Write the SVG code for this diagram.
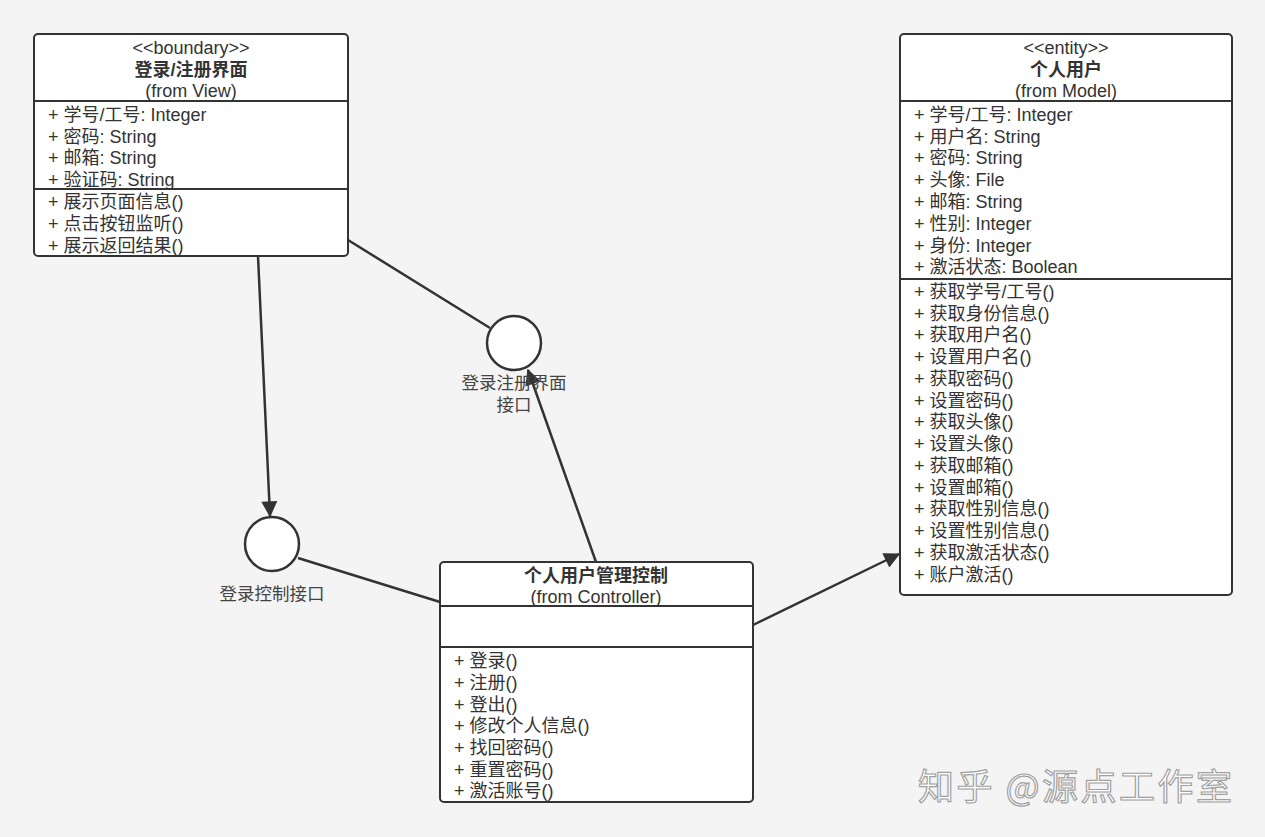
<svg xmlns="http://www.w3.org/2000/svg" width="1265" height="837" viewBox="0 0 1265 837">
<defs>
<style>
.box{fill:#fff;stroke:#333;stroke-width:2}
.div{stroke:#333;stroke-width:2}
.t{font-family:"Liberation Sans","Noto Sans CJK SC",sans-serif;font-size:18px;fill:#333}
.c{text-anchor:middle}
.b{font-weight:bold}
.lbl{font-family:"Liberation Sans","Noto Sans CJK SC",sans-serif;font-size:17.5px;fill:#444;text-anchor:middle}
.ln{stroke:#333;stroke-width:2.5;fill:none}
.wm{font-family:"Noto Sans CJK SC",sans-serif;font-size:36px;fill:#fff;stroke:#a0a0a0;stroke-width:1.2}
</style>
<marker id="arrow" viewBox="0 0 12 12" refX="11" refY="6" markerWidth="18" markerHeight="16" markerUnits="userSpaceOnUse" orient="auto">
<path d="M0,0 L12,6 L0,12 z" fill="#333"/>
</marker>
</defs>
<rect x="0" y="0" width="1265" height="837" fill="#f4f4f4"/>

<g id="connectors">
<line class="ln" x1="258" y1="256" x2="270" y2="516" marker-end="url(#arrow)"/>
<line class="ln" x1="348" y1="240" x2="490" y2="328"/>
<line class="ln" x1="298" y1="558" x2="440" y2="602"/>
<line class="ln" x1="596" y1="562" x2="528" y2="370" marker-end="url(#arrow)"/>
<line class="ln" x1="753" y1="625" x2="899" y2="554" marker-end="url(#arrow)"/>
</g>

<g id="boundary">
<rect class="box" x="34" y="34" width="314" height="222" rx="4"/>
<line class="div" x1="34" y1="101" x2="348" y2="101"/>
<line class="div" x1="34" y1="189" x2="348" y2="189"/>
<text class="t c" x="191" y="54">&lt;&lt;boundary&gt;&gt;</text>
<text class="t c b" x="191" y="76">登录/注册界面</text>
<text class="t c" x="191" y="97">(from View)</text>
<text class="t" x="48" y="121">+ 学号/工号: Integer</text>
<text class="t" x="48" y="143">+ 密码: String</text>
<text class="t" x="48" y="164">+ 邮箱: String</text>
<text class="t" x="48" y="186">+ 验证码: String</text>
<text class="t" x="48" y="208">+ 展示页面信息()</text>
<text class="t" x="48" y="230">+ 点击按钮监听()</text>
<text class="t" x="48" y="252">+ 展示返回结果()</text>
</g>

<g id="entity">
<rect class="box" x="900" y="34" width="332" height="561" rx="4"/>
<line class="div" x1="900" y1="101" x2="1232" y2="101"/>
<line class="div" x1="900" y1="279" x2="1232" y2="279"/>
<text class="t c" x="1066" y="54">&lt;&lt;entity&gt;&gt;</text>
<text class="t c b" x="1066" y="76">个人用户</text>
<text class="t c" x="1066" y="97">(from Model)</text>
<text class="t" x="914" y="121">+ 学号/工号: Integer</text>
<text class="t" x="914" y="143">+ 用户名: String</text>
<text class="t" x="914" y="164">+ 密码: String</text>
<text class="t" x="914" y="186">+ 头像: File</text>
<text class="t" x="914" y="208">+ 邮箱: String</text>
<text class="t" x="914" y="230">+ 性别: Integer</text>
<text class="t" x="914" y="252">+ 身份: Integer</text>
<text class="t" x="914" y="273">+ 激活状态: Boolean</text>
<text class="t" x="914" y="298">+ 获取学号/工号()</text>
<text class="t" x="914" y="320">+ 获取身份信息()</text>
<text class="t" x="914" y="341">+ 获取用户名()</text>
<text class="t" x="914" y="363">+ 设置用户名()</text>
<text class="t" x="914" y="385">+ 获取密码()</text>
<text class="t" x="914" y="407">+ 设置密码()</text>
<text class="t" x="914" y="428">+ 获取头像()</text>
<text class="t" x="914" y="450">+ 设置头像()</text>
<text class="t" x="914" y="472">+ 获取邮箱()</text>
<text class="t" x="914" y="494">+ 设置邮箱()</text>
<text class="t" x="914" y="515">+ 获取性别信息()</text>
<text class="t" x="914" y="537">+ 设置性别信息()</text>
<text class="t" x="914" y="559">+ 获取激活状态()</text>
<text class="t" x="914" y="581">+ 账户激活()</text>
</g>

<g id="controller">
<rect class="box" x="440" y="562" width="313" height="240" rx="4"/>
<line class="div" x1="440" y1="606" x2="753" y2="606"/>
<line class="div" x1="440" y1="647" x2="753" y2="647"/>
<text class="t c b" x="596" y="582">个人用户管理控制</text>
<text class="t c" x="596" y="603">(from Controller)</text>
<text class="t" x="454" y="667">+ 登录()</text>
<text class="t" x="454" y="689">+ 注册()</text>
<text class="t" x="454" y="711">+ 登出()</text>
<text class="t" x="454" y="732">+ 修改个人信息()</text>
<text class="t" x="454" y="754">+ 找回密码()</text>
<text class="t" x="454" y="776">+ 重置密码()</text>
<text class="t" x="454" y="797">+ 激活账号()</text>
</g>

<g id="login-control-interface">
<circle cx="272" cy="544" r="27" fill="#fff" stroke="#333" stroke-width="2.5"/>
<text class="lbl" x="272" y="600">登录控制接口</text>
</g>

<g id="login-ui-interface">
<circle cx="514" cy="343" r="27" fill="#fff" stroke="#333" stroke-width="2.5"/>
<text class="lbl" x="514" y="389">登录注册界面</text>
<text class="lbl" x="514" y="411">接口</text>
</g>

<text class="wm" x="918" y="800" textLength="314" lengthAdjust="spacing">知乎 @源点工作室</text>
</svg>
